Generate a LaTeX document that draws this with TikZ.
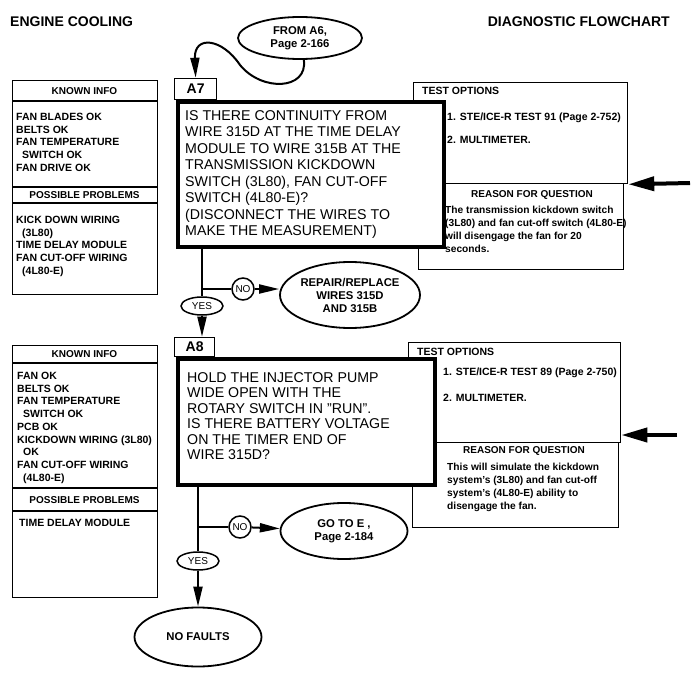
\documentclass[tikz,border=0pt]{standalone}
\usepackage{fontspec}
\setmainfont{Liberation Sans}
\usetikzlibrary{arrows.meta,positioning,shapes.geometric}

\begin{document}
\begin{tikzpicture}[x=1pt, y=-1pt,
    thin box/.style={draw, line width=1.3pt, inner sep=0pt, anchor=north west},
    question/.style={draw, line width=4pt, fill=white, inner sep=0pt, anchor=north west},
    tag/.style={draw, line width=1.3pt, fill=white, inner sep=0pt, anchor=south west,
                font=\fontsize{14}{14}\selectfont\bfseries},
    oval/.style={ellipse, draw, line width=1.8pt, inner sep=0pt, align=center,
                 font=\fontsize{11.3}{13}\selectfont\bfseries},
    answer/.style={ellipse, draw, line width=1.5pt, inner sep=0pt, minimum width=42pt,
                   minimum height=18pt, font=\fontsize{10}{10}\selectfont},
    nocircle/.style={circle, draw, line width=1.5pt, inner sep=0pt, minimum size=22pt,
                     font=\fontsize{10}{10}\selectfont},
    wire/.style={line width=2pt},
    flow/.style={line width=2pt, -{Triangle[length=20pt, width=9pt]}},
    bigarrow/.style={line width=4pt, -{Triangle[length=26pt, width=14pt]}},
    head/.style={inner sep=0pt, font=\fontsize{10}{12}\selectfont\bfseries},
    small/.style={inner sep=0pt, font=\fontsize{10.5}{12.7}\selectfont\bfseries},
    list/.style={small, align=left, anchor=north west},
    qtext/.style={inner sep=0pt, align=left, anchor=north west}]

    \useasboundingbox (0,0) rectangle (693,679);

    % titles
    \node[anchor=west, inner sep=0pt, font=\fontsize{14}{14}\selectfont\bfseries] (engine) at (10,22) {ENGINE COOLING};
    \node[anchor=east, inner sep=0pt, font=\fontsize{14}{14}\selectfont\bfseries] (chart) at (670,22) {DIAGNOSTIC FLOWCHART};

    % A7 step
    \node[oval, minimum width=124pt, minimum height=42pt] (fromA6) at (300,38) {FROM A6,\\Page 2-166};
    \node[tag, minimum width=42pt, minimum height=21pt] (a7tag) at (174,100) {A7};
    \node[thin box, minimum width=214pt, minimum height=101pt] (a7test) at (413,82) {};
    \node[thin box, minimum width=205pt, minimum height=86pt] (a7why) at (418,183) {};
    \node[question, minimum width=266pt, minimum height=145pt] (a7box) at (176,100) {};
    \node[qtext, font=\fontsize{14.2}{16.5}\selectfont] (a7q) at (185,110)
        {IS THERE CONTINUITY FROM\\WIRE 315D AT THE TIME DELAY\\MODULE TO WIRE 315B AT THE\\TRANSMISSION KICKDOWN\\SWITCH (3L80), FAN CUT-OFF\\SWITCH (4L80-E)?\\(DISCONNECT THE WIRES TO\\MAKE THE MEASUREMENT)};
    \node[small, anchor=west] (a7opt) at (422,91) {TEST OPTIONS};
    \node[small, anchor=west] (a7opt1) at (447,118) {1. STE/ICE-R TEST 91 (Page 2-752)};
    \node[small, anchor=west] (a7opt2) at (447,140) {2. MULTIMETER.};
    \node[head] (a7reason) at (532,195) {REASON FOR QUESTION};
    \node[list, font=\fontsize{10.2}{13}\selectfont\bfseries] (a7why1) at (445,205.5)
        {The transmission kickdown switch\\(3L80) and fan cut-off switch (4L80-E)\\will disengage the fan for 20\\seconds.};

    \node[thin box, minimum width=145pt, minimum height=214pt] (a7known) at (12,80) {};
    \draw[line width=1.3pt] (12,101) -- (157,101) (12,187) -- (157,187) (12,203) -- (157,203);
    \node[head] (a7info) at (84.5,91) {KNOWN INFO};
    \node[list] (a7infolist) at (16,113) {FAN BLADES OK\\BELTS OK\\FAN TEMPERATURE\\\hspace*{6pt}SWITCH OK\\FAN DRIVE OK};
    \node[head] (a7prob) at (84.5,195) {POSSIBLE PROBLEMS};
    \node[list] (a7problist) at (16,216) {KICK DOWN WIRING\\\hspace*{6pt}(3L80)\\TIME DELAY MODULE\\FAN CUT-OFF WIRING\\\hspace*{6pt}(4L80-E)};

    \coordinate (a7in) at (690,183);
    \draw[bigarrow] (a7in) -- (a7test.south east);
    \draw[flow] (fromA6.-80) .. controls (308,90) and (262,92) .. (240,65)
                .. controls (222,38) and (194,35) .. (a7tag.north);

    \coordinate (a7split) at (202,289);
    \node[answer] (a7yes) at (202,306) {YES};
    \node[nocircle] (a7no) at (243,289) {NO};
    \node[oval, minimum width=135pt, minimum height=66pt] (a7repair) at (350,295) {REPAIR/REPLACE\\WIRES 315D\\AND 315B};
    \draw[wire] (a7box.south -| a7yes) -- (a7yes);
    \draw[wire] (a7split) -- (a7no);
    \draw[flow] (a7no) -- (a7no -| a7repair.west);

    % A8 step
    \node[tag, minimum width=40pt, minimum height=19pt] (a8tag) at (174,357) {A8};
    \node[thin box, minimum width=212pt, minimum height=100pt] (a8test) at (408,342) {};
    \node[thin box, minimum width=206pt, minimum height=85pt] (a8why) at (412,442) {};
    \node[question, minimum width=257pt, minimum height=126pt] (a8box) at (176,357) {};
    \node[qtext, font=\fontsize{14.2}{15.5}\selectfont] (a8q) at (187,372)
        {HOLD THE INJECTOR PUMP\\WIDE OPEN WITH THE\\ROTARY SWITCH IN "RUN".\\IS THERE BATTERY VOLTAGE\\ON THE TIMER END OF\\WIRE 315D?};
    \node[small, anchor=west] (a8opt) at (417,352) {TEST OPTIONS};
    \node[small, anchor=west] (a8opt1) at (443,373) {1. STE/ICE-R TEST 89 (Page 2-750)};
    \node[small, anchor=west] (a8opt2) at (443,398) {2. MULTIMETER.};
    \node[head] (a8reason) at (524,451) {REASON FOR QUESTION};
    \node[list, font=\fontsize{10.2}{13}\selectfont\bfseries] (a8why1) at (447,463)
        {This will simulate the kickdown\\system's (3L80) and fan cut-off\\system's (4L80-E) ability to\\disengage the fan.};

    \node[thin box, minimum width=145pt, minimum height=252pt] (a8known) at (12,345) {};
    \draw[line width=1.3pt] (12,363) -- (157,363) (12,488) -- (157,488) (12,511) -- (157,511);
    \node[head] (a8info) at (84.5,354) {KNOWN INFO};
    \node[list] (a8infolist) at (17,372) {FAN OK\\BELTS OK\\FAN TEMPERATURE\\\hspace*{6pt}SWITCH OK\\PCB OK\\KICKDOWN WIRING (3L80)\\\hspace*{6pt}OK\\FAN CUT-OFF WIRING\\\hspace*{6pt}(4L80-E)};
    \node[head] (a8prob) at (84.5,500) {POSSIBLE PROBLEMS};
    \node[list] (a8problist) at (19,519) {TIME DELAY MODULE};

    \coordinate (a8in) at (677,435);
    \draw[bigarrow] (a8in) -- (a8test.east |- a8in);
    \draw[flow] (a7yes) -- (a7yes |- a8tag.north);

    \coordinate (a8split) at (198,527);
    \node[answer] (a8yes) at (198,561) {YES};
    \node[nocircle] (a8no) at (240,527) {NO};
    \node[oval, minimum width=127pt, minimum height=56pt] (a8goto) at (344,531) {GO TO E ,\\Page 2-184};
    \node[oval, minimum width=127pt, minimum height=59pt] (nofault) at (198,637) {NO FAULTS};
    \draw[wire] (a8box.south -| a8yes) -- (a8yes);
    \draw[wire] (a8split) -- (a8no);
    \draw[flow] (a8no) -- (a8goto);
    \draw[flow] (a8yes) -- (nofault);

\end{tikzpicture}
\end{document}
